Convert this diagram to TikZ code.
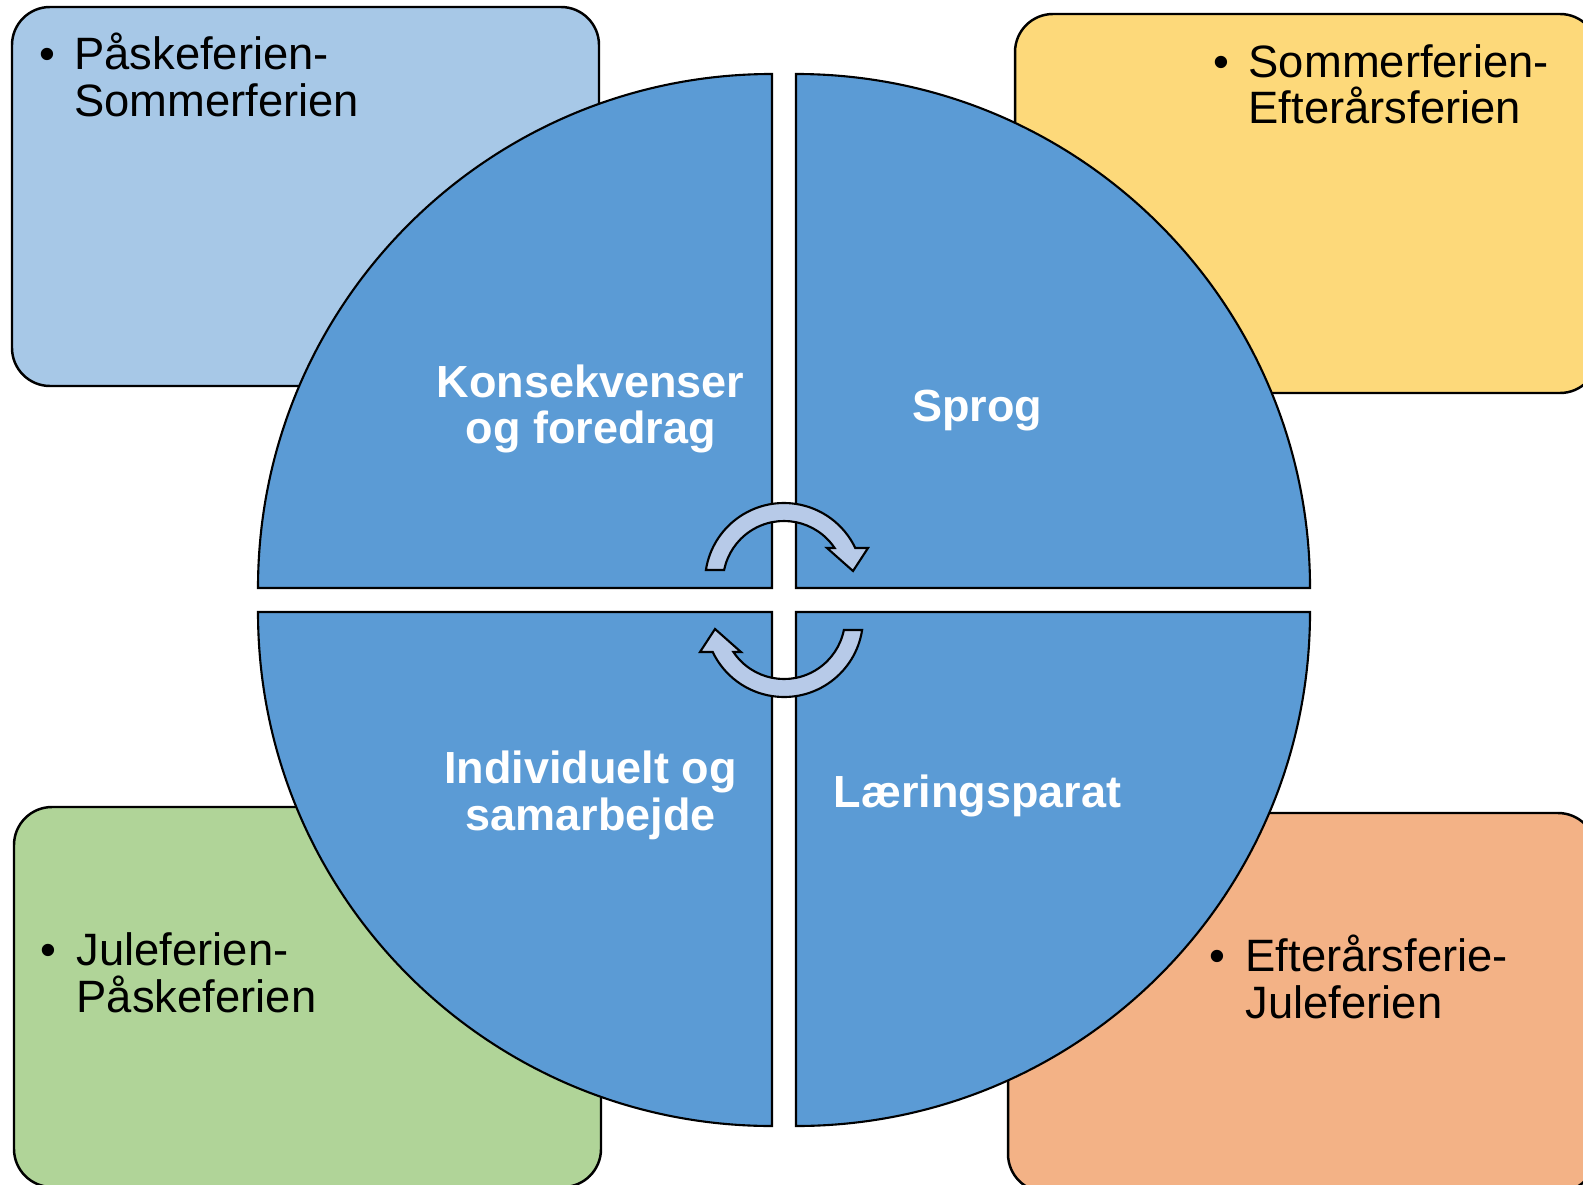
\documentclass[tikz,border=0pt]{standalone}
\usepackage{fontspec}
\setmainfont{Liberation Sans}
\definecolor{boxblue}{HTML}{A7C8E7}
\definecolor{boxyellow}{HTML}{FDD97A}
\definecolor{boxgreen}{HTML}{B0D498}
\definecolor{boxorange}{HTML}{F3B286}
\definecolor{quadblue}{HTML}{5B9BD5}
\definecolor{arrowfill}{HTML}{B7CAE8}
\begin{document}
\begin{tikzpicture}[x=0.01cm,y=0.01cm,
  roundbox/.style={draw=black, line width=0.7pt, rounded corners=0.38cm},
  quad/.style={draw=black, line width=0.6pt, fill=quadblue},
  cyclearrow/.style={draw=black, line width=0.6pt, fill=arrowfill},
  plaintext/.style={inner sep=0pt, font=\fontsize{12.9}{13.5}\selectfont},
  boldtext/.style={inner sep=0pt, text=white, font=\fontsize{12.8}{13.2}\selectfont\bfseries}]
\useasboundingbox (0,0) rectangle (1583,1184);
\clip (0,0) rectangle (1583,1184);
\fill[white] (0,0) rectangle (1583,1184);
% corner boxes
\draw[roundbox, fill=boxblue]   (12,798)   rectangle (599,1177);
\draw[roundbox, fill=boxyellow] (1015,791) rectangle (1598,1170);
\draw[roundbox, fill=boxgreen]  (14,-3)    rectangle (601,377);
\draw[roundbox, fill=boxorange] (1008,-8)  rectangle (1596,371);
% circle quadrants
\draw[quad] (772,596) -- (258,596) arc (180:90:514) -- cycle;
\draw[quad] (796,596) -- (796,1110) arc (90:0:514) -- cycle;
\draw[quad] (772,572) -- (772,58) arc (270:180:514) -- cycle;
\draw[quad] (796,572) -- (1310,572) arc (0:-90:514) -- cycle;
% circular arrows
\draw[cyclearrow] (705.9,614) arc (171.26:25.5:79) -- (868,636) -- (853,613) -- (827,636) -- (834.6,636) arc (33.87:168.65:61) -- cycle;
\draw[cyclearrow, rotate around={180:(784,584)}] (705.9,614) arc (171.26:25.5:79) -- (868,636) -- (853,613) -- (827,636) -- (834.6,636) arc (33.87:168.65:61) -- cycle;
% corner texts
\node[plaintext, anchor=base] (tlb) at (47.4,1114) {•};
\node[plaintext, anchor=base west] (tl1) at (73.5,1114) {Påskeferien-};
\node[plaintext, anchor=base west] (tl2) at (73.5,1067.3) {Sommerferien};
\node[plaintext, anchor=base] (trb) at (1221,1106.7) {•};
\node[plaintext, anchor=base west] (tr1) at (1248,1106.7) {Sommerferien-};
\node[plaintext, anchor=base west] (tr2) at (1248,1060) {Efterårsferien};
\node[plaintext, anchor=base] (blb) at (48,218.3) {•};
\node[plaintext, anchor=base west] (bl1) at (76,218.3) {Juleferien-};
\node[plaintext, anchor=base west] (bl2) at (76,171.3) {Påskeferien};
\node[plaintext, anchor=base] (brb) at (1217,212.3) {•};
\node[plaintext, anchor=base west] (br1) at (1245,212.3) {Efterårsferie-};
\node[plaintext, anchor=base west] (br2) at (1245,165.7) {Juleferien};
% quadrant labels
\node[boldtext, anchor=base] (q1a) at (590.6,787) {Konsekvenser};
\node[boldtext, anchor=base] (q1b) at (590.6,740.5) {og foredrag};
\node[boldtext, anchor=base] (q2) at (977.3,763) {Sprog};
\node[boldtext, anchor=base] (q3a) at (590.6,400.4) {Individuelt og};
\node[boldtext, anchor=base] (q3b) at (590.6,354) {samarbejde};
\node[boldtext, anchor=base] (q4) at (977.3,377) {Læringsparat};
\end{tikzpicture}
\end{document}
